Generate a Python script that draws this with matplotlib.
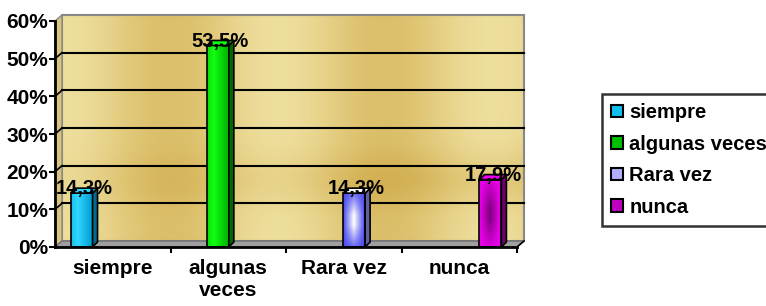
import numpy as np
import matplotlib.pyplot as plt
from matplotlib.colors import to_rgb
from matplotlib.patches import Polygon, Rectangle, Patch

plt.rcParams['font.family'] = ['Liberation Sans', 'DejaVu Sans']
plt.rcParams['font.weight'] = 'bold'

# datos
categorias = ['siempre', 'algunas\nveces', 'Rara vez', 'nunca']
series = ['siempre', 'algunas veces', 'Rara vez', 'nunca']
valores = [0.143, 0.535, 0.143, 0.179]
etiquetas = ['14,3%', '53,5%', '14,3%', '17,9%']
yticks = [0, 0.1, 0.2, 0.3, 0.4, 0.5, 0.6]

# colores (borde, centro, lado)
col_a = ['#0098D0', '#00B000', '#4848F0', '#F000F0']
col_b = ['#30D8FF', '#10FF10', '#FFFFFF', '#800080']
col_lado = ['#006A90', '#006A00', '#6060A0', '#700070']
col_leyenda = ['#10C0F0', '#00C000', '#B0B0FF', '#C000C0']

fig = plt.figure(figsize=(7.66, 3.06), dpi=100)
ax = fig.add_axes([55 / 766, 59 / 306, 462 / 766, 226 / 306])

x0, x1 = -0.5, 3.5
ymax = 0.6
dx, dy = 7 / 115.5, 6 / 376.7  # profundidad del fondo
bdx, bdy = 5 / 115.5, 5 / 376.7  # profundidad de barras

# pared de fondo dorada
gx = np.linspace(0, 1, 300)
gy = np.linspace(0, 1, 120)
GX, GY = np.meshgrid(gx, gy)
t = (0.45 + 0.28 * np.cos(2 * np.pi * (GX - 0.234) / 0.466)
     + 0.25 * np.exp(-((GY - 0.27) / 0.12) ** 2) * (0.4 + GX))
t = np.clip(t, 0, 1)
claro = np.array([0xF3, 0xE8, 0xAC]) / 255
oscuro = np.array([0xD3, 0xB0, 0x52]) / 255
img = claro[None, None, :] * (1 - t[..., None]) + oscuro[None, None, :] * t[..., None]
fondo = ax.imshow(img, extent=[x0 + dx, x1 + dx, dy, ymax + dy], aspect='auto',
                  origin='lower', zorder=0, interpolation='bilinear')
fondo.set_clip_on(False)
ax.add_patch(Rectangle((x0 + dx, dy), x1 - x0, ymax, fill=False, ec='#888888',
                       lw=1.5, zorder=1, clip_on=False))

# pared izquierda y piso
ax.add_patch(Polygon([(x0, 0), (x0 + dx, dy), (x0 + dx, ymax + dy), (x0, ymax)],
                     closed=True, fc='#D9C47C', ec='#888888', lw=1, zorder=1, clip_on=False))
ax.add_patch(Polygon([(x0, 0), (x1, 0), (x1 + dx, dy), (x0 + dx, dy)],
                     closed=True, fc='#A0A0A0', ec='#707070', lw=1, zorder=1, clip_on=False))

# lineas de division
for y in yticks[1:-1]:
    ax.plot([x0 + dx, x1 + dx], [y + dy, y + dy], color='black', lw=1.5, zorder=1, clip_on=False)
    ax.plot([x0, x0 + dx], [y, y + dy], color='black', lw=1.2, zorder=1, clip_on=False)
ax.plot([x1, x1 + dx], [0, dy], color='black', lw=1.2, zorder=2, clip_on=False)

# barras
slot = 0.18
ancho = 0.19
for j, v in enumerate(valores):
    xc = j + (j - 1.5) * slot
    xl, xr = xc - ancho / 2, xc + ancho / 2
    rect = Rectangle((xl, 0), ancho, v, fc='none', ec='black', lw=1.2, zorder=4, clip_on=False)
    ax.add_patch(rect)
    if j < 2:
        g = np.linspace(0, 1, 50)
        prof = np.clip(1 - np.abs(g - 0.3) / 0.7, 0, 1)
    else:
        g = np.linspace(-1, 1, 50)
        prof = np.clip(1 - np.abs(g), 0, 1)
    gy2 = np.linspace(-1, 1, 80)
    vert = np.ones_like(gy2) if j < 2 else np.clip(1.2 - np.abs(gy2), 0, 1)
    P = np.outer(vert, prof)
    ca = np.array(to_rgb(col_a[j]))
    cb = np.array(to_rgb(col_b[j]))
    bimg = ca[None, None, :] * (1 - P[..., None]) + cb[None, None, :] * P[..., None]
    im = ax.imshow(bimg, extent=[xl, xr, 0, v], aspect='auto', origin='lower',
                   zorder=3, interpolation='bilinear')
    im.set_clip_path(rect)
    ax.add_patch(Polygon([(xr, 0), (xr + bdx, bdy), (xr + bdx, v + bdy), (xr, v)],
                         closed=True, fc=col_lado[j], ec='black', lw=1.2, zorder=4))
    ax.add_patch(Polygon([(xl, v), (xr, v), (xr + bdx, v + bdy), (xl + bdx, v + bdy)],
                         closed=True, fc=col_b[j] if j != 3 else col_a[j], ec='black',
                         lw=1.2, zorder=4))
    ax.text(xc + bdx / 2, v + 0.011, etiquetas[j], ha='center', va='center',
            fontsize=14.5, fontweight='bold', zorder=6)

ax.set_xlim(x0, x1)
ax.set_ylim(0, ymax)
ax.set_yticks(yticks)
ax.set_yticklabels(['%d%%' % round(y * 100) for y in yticks], fontsize=15, fontweight='bold')
ax.set_xticks([0.5, 1.5, 2.5, 3.5])
ax.set_xticklabels([])
ax.set_xticks(range(4), minor=True)
ax.set_xticklabels(categorias, minor=True, fontsize=15, fontweight='bold', linespacing=1.15)
ax.tick_params(axis='x', which='minor', length=0, pad=9)
ax.tick_params(axis='x', which='major', length=4, width=1.5, direction='out')
ax.tick_params(axis='y', length=4, width=1.5, direction='out', pad=1)
for s in ['top', 'right']:
    ax.spines[s].set_visible(False)
for s in ['left', 'bottom']:
    ax.spines[s].set_linewidth(2)
    ax.spines[s].set_zorder(5)
ax.set_facecolor('none')

# leyenda
manijas = [Patch(fc=c, ec='black', lw=1.5) for c in col_leyenda]
leg = fig.legend(manijas, series, loc='upper left', bbox_to_anchor=(602 / 766, 1 - 94 / 306),
                 prop={'size': 14.5, 'weight': 'bold'}, frameon=True, fancybox=False,
                 handlelength=0.6, handleheight=0.6, handletextpad=0.3, labelspacing=0.62,
                 borderpad=0.45, borderaxespad=0)
leg.get_frame().set_edgecolor('black')
leg.get_frame().set_linewidth(1.8)

fig.savefig('out.png', dpi=100)
